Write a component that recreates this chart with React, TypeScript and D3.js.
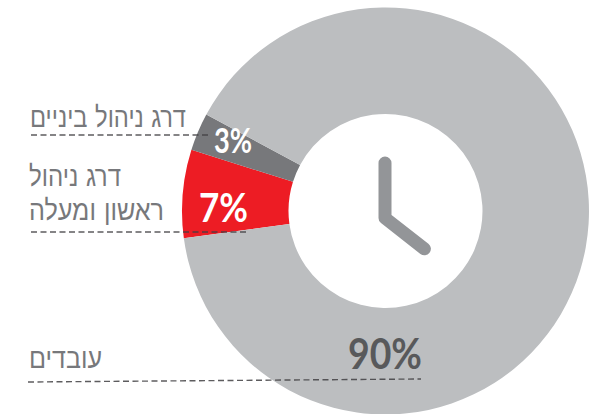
import React from "react";
import * as d3 from "d3";

const WIDTH = 605;
const HEIGHT = 414;

// Workforce shares, in drawing order going clockwise from the lower left.
const shareLabels = ["7%", "3%", "90%"];
const shareValues = [7, 3, 90];
const shareColors = ["#ed1c24", "#77787b", "#bcbec0"];
const shareTextColors = ["#ffffff", "#ffffff", "#58595b"];
const labelAnchors: [number, number][] = [[223.5, 222], [233, 153], [385, 369]];
const labelSizes = [41, 34, 42];
const labelWidths = [49, 38, 74];

// Group captions, one entry per row of text.
const captionLines = ["דרג ניהול ביניים", "דרג ניהול", "ראשון ומעלה", "עובדים"];
const captionRight = [186, 121, 164, 102];
const captionBaseline = [127, 186, 220, 368];
const captionWidths = [156, 92, 135, 73];

// Leader lines under the captions: [x1, y1, x2, y2].
const leaders = [
  [31, 135, 208, 135],
  [31, 232, 247, 232],
  [28, 382, 421, 379],
];

// Clock hands as dial angle in degrees and length from the pivot.
const handAngles = [0, 128];
const handLengths = [55, 50];

const CENTER: [number, number] = [385.5, 211];
const OUTER = 203.5;
const INNER = 97;
const START_ANGLE = (262.3 * Math.PI) / 180;

export default function App() {
  // Slices run clockwise starting at the red wedge.
  const slices = d3
    .pie<number>()
    .sort(null)
    .value((d) => d)
    .startAngle(START_ANGLE)
    .endAngle(START_ANGLE + 2 * Math.PI)(shareValues);
  const arc = d3.arc<d3.PieArcDatum<number>>().innerRadius(INNER).outerRadius(OUTER);

  const pivot: [number, number] = [385, 218];
  const handPoint = (i: number): [number, number] => {
    const a = (handAngles[i] * Math.PI) / 180;
    return [pivot[0] + handLengths[i] * Math.sin(a), pivot[1] - handLengths[i] * Math.cos(a)];
  };
  const handsPath = d3.line()([handPoint(0), pivot, handPoint(1)]) ?? "";

  return (
    <svg
      width={WIDTH}
      height={HEIGHT}
      viewBox={`0 0 ${WIDTH} ${HEIGHT}`}
      style={{ position: "absolute", left: 0, top: 0, background: "#fff" }}
    >
      <g transform={`translate(${CENTER[0]},${CENTER[1]})`}>
        {slices.map((s, i) => (
          <path key={i} d={arc(s) ?? ""} fill={shareColors[i]} />
        ))}
      </g>
      <path
        d={handsPath}
        fill="none"
        stroke="#939598"
        strokeWidth={13}
        strokeLinecap="round"
        strokeLinejoin="round"
      />
      {leaders.map((l, i) => (
        <line
          key={i}
          x1={l[0]}
          y1={l[1]}
          x2={l[2]}
          y2={l[3]}
          stroke="#414042"
          strokeOpacity={0.85}
          strokeWidth={1.4}
          strokeDasharray="6 3.5"
        />
      ))}
      {captionLines.map((t, i) => (
        <text
          key={i}
          x={captionRight[i] - captionWidths[i]}
          y={captionBaseline[i]}
          textAnchor="start"
          fontFamily="'DejaVu Sans', sans-serif"
          fontWeight={200}
          fontSize={28}
          fill="#77787b"
          textLength={captionWidths[i]}
          lengthAdjust="spacingAndGlyphs"
        >
          {t}
        </text>
      ))}
      {shareLabels.map((t, i) => (
        <text
          key={i}
          x={labelAnchors[i][0] - labelWidths[i] / 2}
          y={labelAnchors[i][1]}
          textAnchor="start"
          fontFamily="Lato, sans-serif"
          fontWeight={700}
          fontSize={labelSizes[i]}
          fill={shareTextColors[i]}
          textLength={labelWidths[i]}
          lengthAdjust="spacingAndGlyphs"
        >
          {t}
        </text>
      ))}
    </svg>
  );
}
